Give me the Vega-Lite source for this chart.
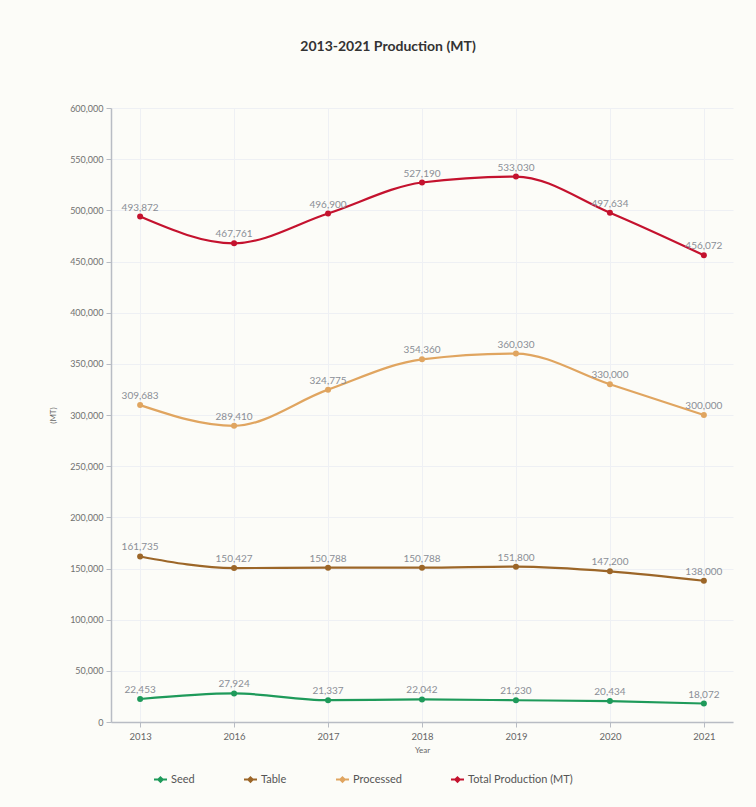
{
  "$schema": "https://vega.github.io/schema/vega-lite/v6.json",
  "width": 622,
  "height": 614,
  "autosize": "none",
  "padding": {"left": 111, "top": 108, "right": 23, "bottom": 85},
  "background": "#fcfcf8",
  "config": {"font": "Lato", "view": {"stroke": null}},
  "title": {"text": "2013-2021 Production (MT)", "fontSize": 14, "fontWeight": "bold", "color": "#333333", "font": "Lato", "anchor": "middle", "dx": -34, "offset": 50},
  "data": {"values": [
    {"year": "2013", "series": "Seed", "value": 22453},
    {"year": "2016", "series": "Seed", "value": 27924},
    {"year": "2017", "series": "Seed", "value": 21337},
    {"year": "2018", "series": "Seed", "value": 22042},
    {"year": "2019", "series": "Seed", "value": 21230},
    {"year": "2020", "series": "Seed", "value": 20434},
    {"year": "2021", "series": "Seed", "value": 18072},
    {"year": "2013", "series": "Table", "value": 161735},
    {"year": "2016", "series": "Table", "value": 150427},
    {"year": "2017", "series": "Table", "value": 150788},
    {"year": "2018", "series": "Table", "value": 150788},
    {"year": "2019", "series": "Table", "value": 151800},
    {"year": "2020", "series": "Table", "value": 147200},
    {"year": "2021", "series": "Table", "value": 138000},
    {"year": "2013", "series": "Processed", "value": 309683},
    {"year": "2016", "series": "Processed", "value": 289410},
    {"year": "2017", "series": "Processed", "value": 324775},
    {"year": "2018", "series": "Processed", "value": 354360},
    {"year": "2019", "series": "Processed", "value": 360030},
    {"year": "2020", "series": "Processed", "value": 330000},
    {"year": "2021", "series": "Processed", "value": 300000},
    {"year": "2013", "series": "Total Production (MT)", "value": 493872},
    {"year": "2016", "series": "Total Production (MT)", "value": 467761},
    {"year": "2017", "series": "Total Production (MT)", "value": 496900},
    {"year": "2018", "series": "Total Production (MT)", "value": 527190},
    {"year": "2019", "series": "Total Production (MT)", "value": 533030},
    {"year": "2020", "series": "Total Production (MT)", "value": 497634},
    {"year": "2021", "series": "Total Production (MT)", "value": 456072}
  ]},
  "encoding": {
    "x": {
      "field": "year", "type": "ordinal",
      "scale": {"type": "point", "padding": 0.31},
      "axis": {"title": "Year", "titleFontSize": 8, "titleFontWeight": "normal", "titleColor": "#666666", "titlePadding": 6,
               "labelAngle": 0, "labelFontSize": 9.5, "labelColor": "#666666", "labelPadding": 4,
               "domainColor": "#b8bcc4", "domainWidth": 1.5, "tickColor": "#b8bcc4", "tickSize": 5,
               "grid": true, "gridColor": "#eef0f4", "gridWidth": 1}
    },
    "y": {
      "field": "value", "type": "quantitative",
      "scale": {"domain": [0, 600000], "nice": false},
      "axis": {"title": "(MT)", "titleFontSize": 8, "titleFontWeight": "normal", "titleColor": "#666666", "titlePadding": 12,
               "tickCount": 12, "format": ",.0f", "labelFontSize": 9, "labelColor": "#707070", "labelPadding": 3,
               "domainColor": "#b8bcc4", "domainWidth": 1.5, "tickColor": "#b8bcc4", "tickSize": 5,
               "grid": true, "gridColor": "#eef0f4", "gridWidth": 1}
    },
    "color": {
      "field": "series", "type": "nominal",
      "scale": {"domain": ["Seed", "Table", "Processed", "Total Production (MT)"], "range": ["#1e9a5a", "#9c6628", "#e0a560", "#c4122e"]},
      "legend": {"orient": "none", "legendX": 42, "legendY": 664, "direction": "horizontal", "title": null,
                 "symbolType": "M-1,0H1M0,-0.35L0.35,0L0,0.35L-0.35,0Z", "symbolSize": 169, "symbolStrokeWidth": 2,
                 "labelFontSize": 11, "labelColor": "#555555", "labelOffset": 3, "columnPadding": 45}
    }
  },
  "layer": [
    {"mark": {"type": "line", "interpolate": "monotone", "strokeWidth": 2.2}},
    {"mark": {"type": "point", "filled": true, "size": 36, "opacity": 1}},
    {"mark": {"type": "text", "dy": -9, "fontSize": 10, "font": "Lato"},
     "encoding": {"text": {"field": "value", "format": ","}, "color": {"value": "#8a8e96"}}}
  ]
}
